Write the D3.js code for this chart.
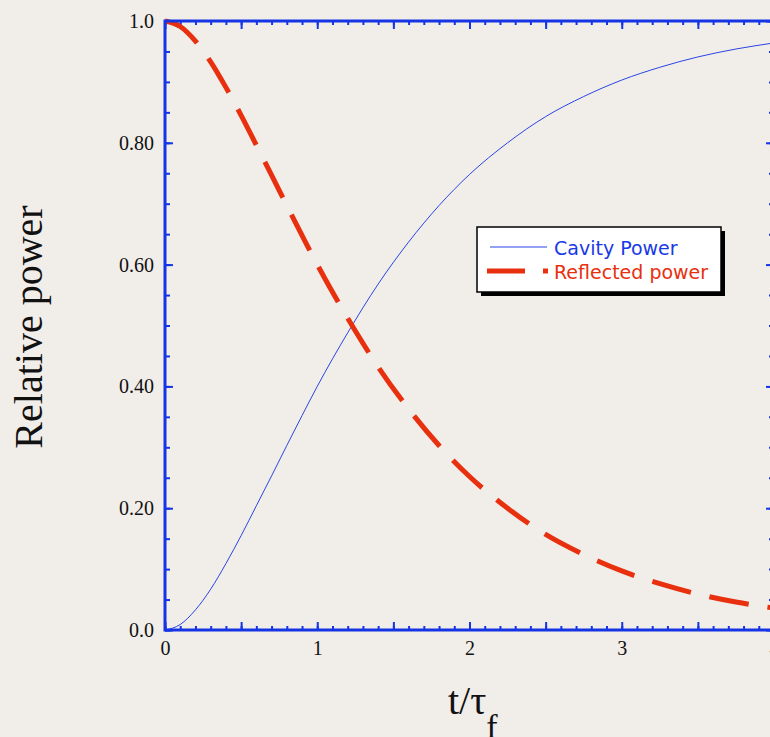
<!DOCTYPE html>
<html>
<head>
<meta charset="utf-8">
<script src="https://cdn.jsdelivr.net/npm/d3@7/dist/d3.min.js"></script>
<style>
  body { margin: 0; background: #f1ede9; }
  svg { display: block; }
</style>
</head>
<body>
<div id="chart"></div>
<script>
// values
var tValues = [0, 0.1, 0.2, 0.3, 0.4, 0.5, 0.6, 0.7, 0.8, 0.9, 1.0,
               1.2, 1.4, 1.6, 1.8, 2.0, 2.25, 2.5, 2.75, 3.0, 3.25, 3.5, 3.75, 4.0];
var cavityPower = [0, 0.009, 0.033, 0.067, 0.109, 0.155, 0.204, 0.253, 0.303, 0.352, 0.400,
                   0.488, 0.568, 0.637, 0.697, 0.748, 0.800, 0.843, 0.876, 0.903, 0.924, 0.941, 0.954, 0.964];
var reflectedPower = [1.0, 0.991, 0.967, 0.933, 0.891, 0.845, 0.796, 0.747, 0.697, 0.648, 0.600,
                      0.512, 0.432, 0.363, 0.303, 0.252, 0.200, 0.157, 0.124, 0.097, 0.076, 0.059, 0.046, 0.036];
var xLabelTicks = [0, 1, 2, 3, 4];
var yLabelTicks = [0, 0.2, 0.4, 0.6, 0.8, 1.0];
var yLabelText = ["0.0", "0.20", "0.40", "0.60", "0.80", "1.0"];
var seriesNames = ["Cavity Power", "Reflected power"];

var W = 770, H = 737;
var margin = {top: 21, left: 165};
var plotW = 609, plotH = 609;

var axisBlue = "#1535e5", lineBlue = "#2a44e6", red = "#e8300e";

var svg = d3.select("#chart")
  .append("svg")
    .attr("width", W)
    .attr("height", H)
    .style("background", "#f1ede9");

var x = d3.scaleLinear().domain([0, 4]).range([margin.left, margin.left + plotW]);
var y = d3.scaleLinear().domain([0, 1]).range([margin.top + plotH, margin.top]);

var data = tValues.map(function(t, i) {
  return {t: t, c: cavityPower[i], r: reflectedPower[i]};
});

// ticks: major + minor, pointing inward
var xMajor = d3.range(0, 4.01, 0.5), xMinor = d3.range(0, 4.01, 0.1);
var yMajor = yLabelTicks, yMinor = d3.range(0, 1.001, 0.05);

function styleAxis(g) {
  g.select(".domain").remove();
  g.selectAll("line").attr("stroke", axisBlue).attr("stroke-width", 2);
  g.selectAll("text")
    .style("font-family", "'Liberation Serif', 'Times New Roman', serif")
    .style("font-size", "20px")
    .attr("fill", "#111");
}

// bottom
svg.append("g")
  .attr("transform", "translate(0," + y(0) + ")")
  .call(d3.axisBottom(x).tickValues(xMinor).tickSize(-4).tickFormat(""))
  .call(styleAxis);
svg.append("g")
  .attr("transform", "translate(0," + y(0) + ")")
  .call(d3.axisBottom(x).tickValues(xMajor).tickSize(-8).tickPadding(11)
    .tickFormat(function(d) { return xLabelTicks.indexOf(d) >= 0 ? d3.format("d")(d) : ""; }))
  .call(styleAxis);
// top
svg.append("g")
  .attr("transform", "translate(0," + y(1) + ")")
  .call(d3.axisTop(x).tickValues(xMinor).tickSize(-4).tickFormat(""))
  .call(styleAxis);
svg.append("g")
  .attr("transform", "translate(0," + y(1) + ")")
  .call(d3.axisTop(x).tickValues(xMajor).tickSize(-8).tickFormat(""))
  .call(styleAxis);
// left
svg.append("g")
  .attr("transform", "translate(" + x(0) + ",0)")
  .call(d3.axisLeft(y).tickValues(yMinor).tickSize(-5).tickFormat(""))
  .call(styleAxis);
svg.append("g")
  .attr("transform", "translate(" + x(0) + ",0)")
  .call(d3.axisLeft(y).tickValues(yMajor).tickSize(-8).tickPadding(11)
    .tickFormat(function(d, i) { return yLabelText[i]; }))
  .call(styleAxis);
// right
svg.append("g")
  .attr("transform", "translate(" + x(4) + ",0)")
  .call(d3.axisRight(y).tickValues(yMinor).tickSize(-5).tickFormat(""))
  .call(styleAxis);
svg.append("g")
  .attr("transform", "translate(" + x(4) + ",0)")
  .call(d3.axisRight(y).tickValues(yMajor).tickSize(-8).tickFormat(""))
  .call(styleAxis);

// curves
var cavityLine = d3.line()
  .x(function(d) { return x(d.t); })
  .y(function(d) { return y(d.c); })
  .curve(d3.curveMonotoneX);
var reflLine = d3.line()
  .x(function(d) { return x(d.t); })
  .y(function(d) { return y(d.r); })
  .curve(d3.curveMonotoneX);

svg.append("path")
  .datum(data)
  .attr("d", cavityLine)
  .attr("fill", "none")
  .attr("stroke", lineBlue)
  .attr("stroke-width", 1);

svg.append("path")
  .datum(data)
  .attr("d", reflLine)
  .attr("fill", "none")
  .attr("stroke", red)
  .attr("stroke-width", 5)
  .attr("stroke-dasharray", "40,19");

// frame
svg.append("rect")
  .attr("x", x(0))
  .attr("y", y(1))
  .attr("width", x(4) - x(0))
  .attr("height", y(0) - y(1))
  .attr("fill", "none")
  .attr("stroke", axisBlue)
  .attr("stroke-width", 3);

// axis titles
svg.append("text")
  .attr("transform", "translate(42," + 327 + ") rotate(-90)")
  .attr("text-anchor", "middle")
  .style("font-family", "'Liberation Serif', 'Times New Roman', serif")
  .style("font-size", "40px")
  .attr("fill", "#111")
  .text("Relative power");

var xt = svg.append("text")
  .attr("x", 448)
  .attr("y", 714)
  .style("font-family", "'Liberation Serif', 'Times New Roman', serif")
  .style("font-size", "40px")
  .attr("fill", "#111");
xt.append("tspan").text("t/τ");
xt.append("tspan").attr("dy", 24).style("font-size", "34px").text("f");

// legend
var lg = svg.append("g").attr("transform", "translate(477,227)");
lg.append("rect").attr("x", 4).attr("y", 4).attr("width", 244).attr("height", 65).attr("fill", "#000");
lg.append("rect").attr("width", 244).attr("height", 65).attr("fill", "#fff")
  .attr("stroke", "#000").attr("stroke-width", 1.5);
lg.append("line").attr("x1", 13).attr("x2", 70).attr("y1", 20).attr("y2", 20)
  .attr("stroke", lineBlue).attr("stroke-width", 1);
lg.append("line").attr("x1", 10).attr("x2", 71).attr("y1", 44).attr("y2", 44)
  .attr("stroke", red).attr("stroke-width", 5).attr("stroke-dasharray", "38,18");
lg.selectAll("text.lab")
  .data(seriesNames)
  .enter()
  .append("text")
    .attr("class", "lab")
    .attr("x", 77)
    .attr("y", function(d, i) { return 28 + i * 24; })
    .style("font-family", "'DejaVu Sans', sans-serif")
    .style("font-size", "19px")
    .attr("fill", function(d, i) { return i === 0 ? "#1a3ae8" : red; })
    .text(function(d) { return d; });
</script>
</body>
</html>
